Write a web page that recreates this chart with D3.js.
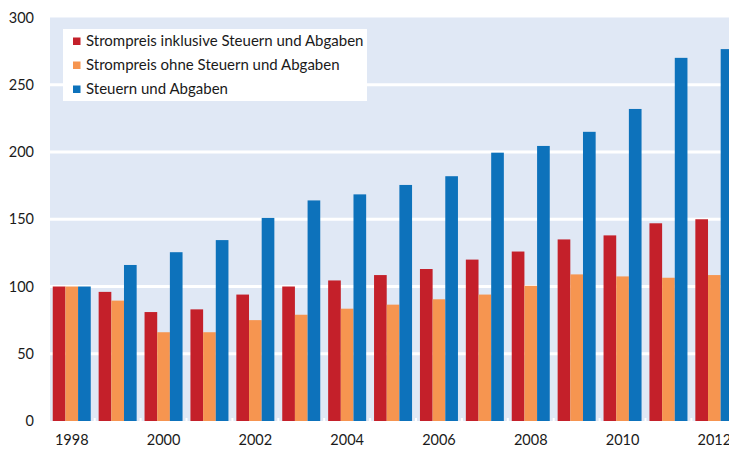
<!DOCTYPE html>
<html><head><meta charset="utf-8">
<script src="https://cdn.jsdelivr.net/npm/d3@7"></script>
<style>body{margin:0;background:#fff}svg{display:block}</style>
</head><body>
<svg id="chart" width="729" height="450"></svg>
<script>
const years = [1998,1999,2000,2001,2002,2003,2004,2005,2006,2007,2008,2009,2010,2011,2012];
const seriesNames = ["Strompreis inklusive Steuern und Abgaben","Strompreis ohne Steuern und Abgaben","Steuern und Abgaben"];
const inklusive = [100,96,81,83,94,100,104.5,108.5,113,120,126,135,138,147,150];
const ohne = [100,89.5,66,66,75,79,83.5,86.5,90.5,94,100.5,109,107.5,106.5,108.5];
const steuern = [100,116,125.5,134.5,151,164,168.5,175.5,182,199.5,204.5,215,232,270,276.5];
const colors = ["#C4202A","#F69550","#0D72BB"];
const yTicks = [0,50,100,150,200,250,300];
const xTickLabels = [1998,2000,2002,2004,2006,2008,2010,2012];

const svg = d3.select("#chart");
const font = "Lato, 'Open Sans', sans-serif";
const plotLeft = 50, plotRight = 729, yTop = 17.5, yBottom = 421;
const y = d3.scaleLinear().domain([0,300]).range([yBottom, yTop]);
const step = 45.9, start = 48.8;
const x0 = d3.scaleBand().domain(years).range([start, start + step*years.length]).paddingInner(0.172).paddingOuter(0.086);
const x1 = d3.scaleBand().domain([0,1,2]).range([0, x0.bandwidth()]);

svg.append("rect").attr("x", plotLeft).attr("y", y(300)).attr("width", plotRight-plotLeft).attr("height", y(0)-y(300)).attr("fill","#E0E8F5");

svg.append("g").selectAll("line").data(yTicks.filter(d=>d>0 && d<300)).join("line")
  .attr("x1", plotLeft).attr("x2", plotRight).attr("y1", d=>y(d)).attr("y2", d=>y(d))
  .attr("stroke","#fff").attr("stroke-width",3);

const data = [inklusive, ohne, steuern];
const g = svg.append("g");
years.forEach((yr,i)=>{
  data.forEach((s,k)=>{
    g.append("rect").attr("x", x0(yr)+x1(k)).attr("y", y(s[i])).attr("width", x1.bandwidth()).attr("height", y(0)-y(s[i])).attr("fill", colors[k]);
  });
});

// small white ticks between groups at bottom
svg.append("g").selectAll("line").data(years.slice(1)).join("line")
  .attr("x1", d=>x0(d)-x0.step()*x0.paddingInner()/2).attr("x2", d=>x0(d)-x0.step()*x0.paddingInner()/2)
  .attr("y1", y(0)-3).attr("y2", y(0)).attr("stroke","#fff").attr("stroke-width",2);

// y axis labels
const yAxis = d3.axisLeft(y).tickValues(yTicks).tickSize(0).tickPadding(0);
const ya = svg.append("g").attr("transform","translate(34,0)").call(yAxis);
ya.select(".domain").remove();
ya.selectAll("text").attr("font-family", font).attr("font-size", 14.5).attr("fill","#1a1a1a").attr("dy","0.32em");

// x axis labels
const xAxis = d3.axisBottom(x0).tickValues(xTickLabels).tickSize(0).tickPadding(0);
const xa = svg.append("g").attr("transform","translate(0,435)").call(xAxis);
xa.select(".domain").remove();
xa.selectAll("text").attr("font-family", font).attr("font-size", 14.5).attr("fill","#1a1a1a").attr("dy","0.71em");

// legend
const lg = svg.append("g");
lg.append("rect").attr("x",63).attr("y",29).attr("width",304).attr("height",72).attr("fill","#fff");
seriesNames.forEach((n,k)=>{
  const cy = 41 + k*24;
  lg.append("rect").attr("x",73).attr("y",cy-3.5).attr("width",7.5).attr("height",7.5).attr("fill",colors[k]);
  lg.append("text").attr("x",86).attr("y",cy).attr("dy","0.35em").attr("font-family",font).attr("font-size",15).attr("fill","#1a1a1a").text(n);
});
</script>
</body></html>
